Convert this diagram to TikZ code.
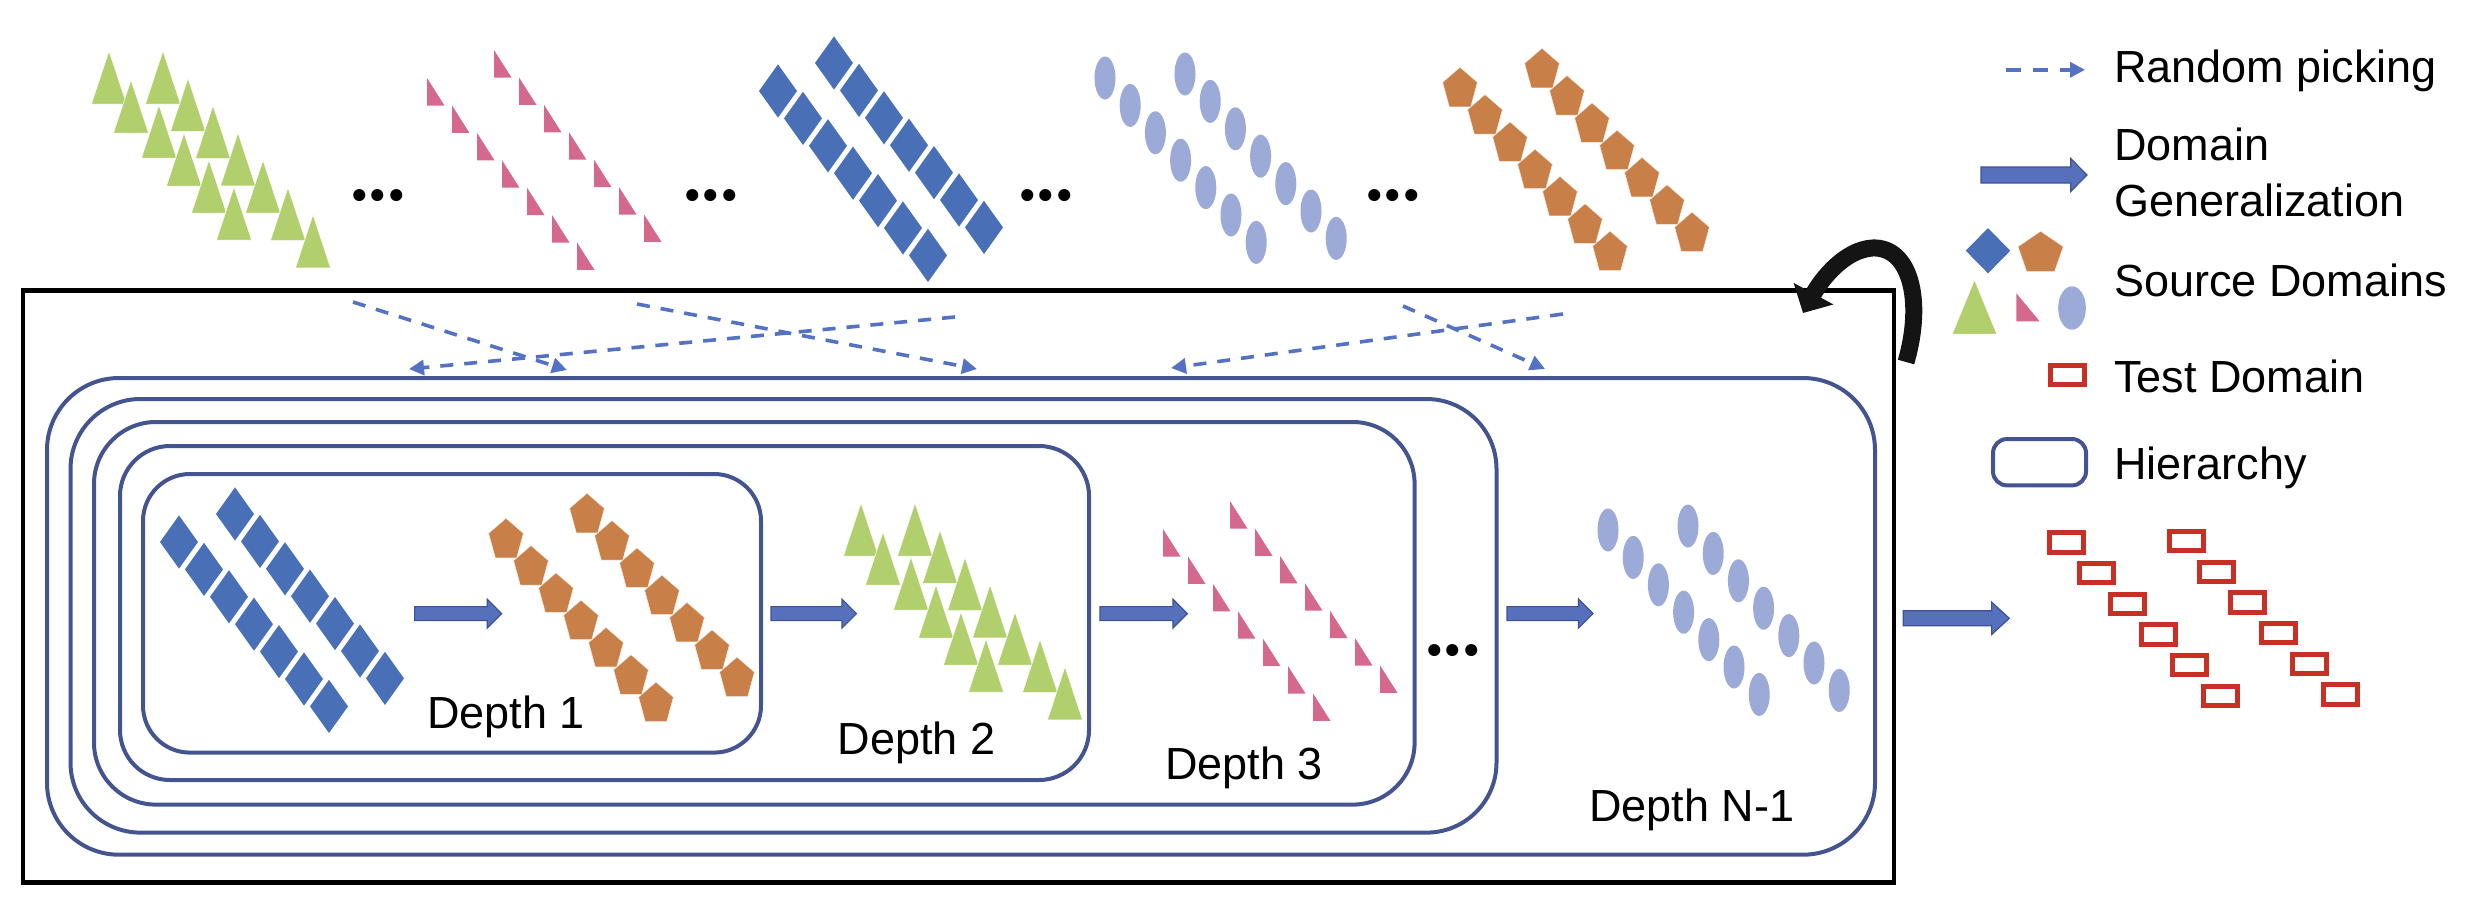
\documentclass[tikz,border=0pt]{standalone}
\usepackage{fontspec}
\setmainfont{Liberation Sans}
\newfontfamily\dotfont{Liberation Serif}
\usetikzlibrary{arrows.meta}
\definecolor{gcol}{RGB}{177,208,109}
\definecolor{pcol}{RGB}{212,104,141}
\definecolor{bcol}{RGB}{73,112,183}
\definecolor{lcol}{RGB}{155,170,215}
\definecolor{ocol}{RGB}{201,128,72}
\definecolor{tcol}{RGB}{200,48,38}
\definecolor{hcol}{RGB}{68,84,145}
\definecolor{dcol}{RGB}{84,114,196}
\definecolor{acol}{RGB}{87,112,188}
\definecolor{aedge}{RGB}{62,82,150}
\tikzset{
  gtri/.pic={\fill[gcol,draw=white,line width=0.5pt] (0,-1) -- (17.5,52) -- (-17.5,52) -- cycle;},
  ptri/.pic={\fill[pcol] (0,0) -- (0,27.5) -- (17.5,27.5) -- cycle;},
  bdia/.pic={\fill[bcol,draw=white,line width=1.3pt] (0,-28) -- (20,0) -- (0,28) -- (-20,0) -- cycle;},
  lell/.pic={\fill[lcol] (0,0) ellipse [x radius=10.5, y radius=21.5];},
  opent/.pic={\fill[ocol,draw=white!85!ocol,line width=0.5pt,xscale=1.05,yscale=1.04] (0,-19) -- (16.55,-4.5) -- (10.23,19) -- (-10.23,19) -- (-16.55,-4.5) -- cycle;},
  tsq/.pic={\draw[tcol,line width=5pt] (-17,-9.7) rectangle (17,9.7);},
  pick/.style={dcol,line width=3.6pt,dash pattern=on 13pt off 11pt,-{Triangle[width=15pt,length=15pt]}},
  hier/.style={hcol,line width=4pt},
  lbl/.style={inner sep=0pt,anchor=base west,font=\fontsize{45}{56}\selectfont},
  dotsty/.style={inner sep=0pt,anchor=base,font=\dotfont\bfseries\fontsize{74}{74}\selectfont},
  blk/.style={fill=acol,draw=aedge,line width=1.2pt},
}
\newcommand\blockarr[6]{% x0 x1 y hb hh hl
  \path[blk] (#1,#3-#4) -- (#2-#6,#3-#4) -- (#2-#6,#3-#5) -- (#2,#3) -- (#2-#6,#3+#5) -- (#2-#6,#3+#4) -- (#1,#3+#4) -- cycle;}
\newcommand\greengroup[2]{%
  \foreach \dx/\dy in {0/0,22/29,50/54,75/82,100/109,125/136} \pic at (#1+\dx,#2+\dy) {gtri};
  \foreach \i in {0,...,6} \pic at (#1+54+25*\i,#2+27.3*\i) {gtri};}
\newcommand\pinkgroup[2]{%
  \foreach \i in {0,...,6} \pic at (#1+25*\i,#2+27.4*\i) {ptri};
  \foreach \i in {0,...,6} \pic at (#1+67+25*\i,#2-28+27.4*\i) {ptri};}
\newcommand\diagroup[2]{%
  \foreach \i in {0,...,6} \pic at (#1+25*\i,#2+27.4*\i) {bdia};
  \foreach \i in {0,...,6} \pic at (#1+56+25*\i,#2-28+27.4*\i) {bdia};}
\newcommand\ellgroup[2]{%
  \foreach \i in {0,...,6} \pic at (#1+25.2*\i,#2+27.4*\i) {lell};
  \foreach \i in {0,...,6} \pic at (#1+80+25.2*\i,#2-4+27.4*\i) {lell};}
\newcommand\pentgroup[4]{%
  \foreach \i in {0,...,6} \pic at (#1+25*\i,#2+27.3*\i) {opent};
  \foreach \i in {0,...,6} \pic at (#1+#3+25*\i,#2+#4+27.3*\i) {opent};}
\newcommand\testgroup[2]{%
  \foreach \i in {0,...,5} \pic at (#1+30.8*\i,#2+30.7*\i) {tsq};
  \foreach \i in {0,...,5} \pic at (#1+120+30.8*\i,#2-1.3+30.7*\i) {tsq};}
\begin{document}
\begin{tikzpicture}[x=1pt,y=-1pt]
\useasboundingbox (0,0) rectangle (2484,908);
% top row of source domains
\greengroup{109}{52}
\pinkgroup{427}{78}
\diagroup{778}{91}
\ellgroup{1105}{78}
\pentgroup{1460}{87}{82}{-19}
\node[dotsty] (dt1) at (378,200.5) {...};
\node[dotsty] (dt2) at (711,200.5) {...};
\node[dotsty] (dt3) at (1046,200.5) {...};
\node[dotsty] (dt4) at (1393,200.5) {...};
% black frame
\draw[line width=4.5pt] (23,290.5) rectangle (1894,882.7);
% hierarchy boxes
\draw[hier,rounded corners=72pt] (47,378) rectangle (1875,854.7);
\draw[hier,rounded corners=70pt] (70.5,399) rectangle (1496.5,832.6);
\draw[hier,rounded corners=62pt] (94,422) rectangle (1414.6,804.6);
\draw[hier,rounded corners=50pt] (120,446) rectangle (1089,780);
\draw[hier,rounded corners=47pt] (143,474) rectangle (761,752.6);
% random picking arrows
\coordinate (p1s) at (353,302);  \coordinate (p1e) at (567,370);
\coordinate (p2s) at (955,317);  \coordinate (p2e) at (409,369);
\coordinate (p3s) at (637,304);  \coordinate (p3e) at (977,369);
\coordinate (p4s) at (1563,314); \coordinate (p4e) at (1171,368);
\coordinate (p5s) at (1403,306); \coordinate (p5e) at (1545,369);
\draw[pick] (p1s) -- (p1e);
\draw[pick] (p2s) -- (p2e);
\draw[pick] (p3s) -- (p3e);
\draw[pick] (p4s) -- (p4e);
\draw[pick] (p5s) -- (p5e);
% depth contents
\diagroup{179}{542}
\pentgroup{506}{538}{81}{-25}
\greengroup{861}{504}
\pinkgroup{1163}{529}
\ellgroup{1608}{530}
\node[dotsty] (dt5) at (1453,655.5) {...};
\blockarr{414.6}{501.7}{613.6}{7}{14.5}{14.5}
\blockarr{771}{856.5}{613.6}{7}{14.5}{14.5}
\blockarr{1100}{1187.4}{613.6}{7}{14.5}{14.5}
\blockarr{1507}{1593}{613.6}{7}{14.5}{14.5}
\blockarr{1903.3}{2009.3}{618.3}{7.5}{16.2}{17.7}
\node[lbl] (d1) at (427,728.5) {Depth 1};
\node[lbl] (d2) at (837.5,754.6) {Depth 2};
\node[lbl] (d3) at (1165,779.8) {Depth 3};
\node[lbl] (dn) at (1589,821.4) {Depth N-1};
% test domain
\testgroup{2066}{542.3}
% curved black arrow
\coordinate (cwA) at (1906,362);
\coordinate (cwB) at (1803,313);
\draw[line width=17pt,black!92,-{Triangle[width=44pt,length=22pt]}] (cwA) .. controls (1924,300) and (1910,246) .. (1872,248) .. controls (1845,250) and (1822,278) .. (cwB);
% legend
\coordinate (lgA) at (2006,69.8); \coordinate (lgB) at (2085,69.8);
\draw[pick,dash pattern=on 15pt off 12pt] (lgA) -- (lgB);
\node[lbl] (l1) at (2114,82.8) {Random picking};
\blockarr{1981}{2087}{175}{8}{16.5}{16.3}
\node[lbl] (l2a) at (2114,160.4) {Domain};
\node[lbl] (l2b) at (2114,216.6) {Generalization};
\pic[xscale=1.17,yscale=0.85] at (1988,250.7) {bdia};
\pic[xscale=1.3,yscale=1.02] at (2040.6,251.4) {opent};
\pic[xscale=1.27,yscale=1.02] at (1974.5,281) {gtri};
\pic[xscale=1.33,yscale=1.02] at (2016.4,293.3) {ptri};
\pic[xscale=1.32,yscale=1.01] at (2072,308) {lell};
\node[lbl] (l3) at (2114,296.7) {Source Domains};
\pic at (2067.5,374.8) {tsq};
\node[lbl] (l4) at (2114,392.7) {Test Domain};
\draw[hier,rounded corners=14pt] (1993,439) rectangle (2086,485.4);
\node[lbl] (l5) at (2114,479.6) {Hierarchy};
\end{tikzpicture}
\end{document}
